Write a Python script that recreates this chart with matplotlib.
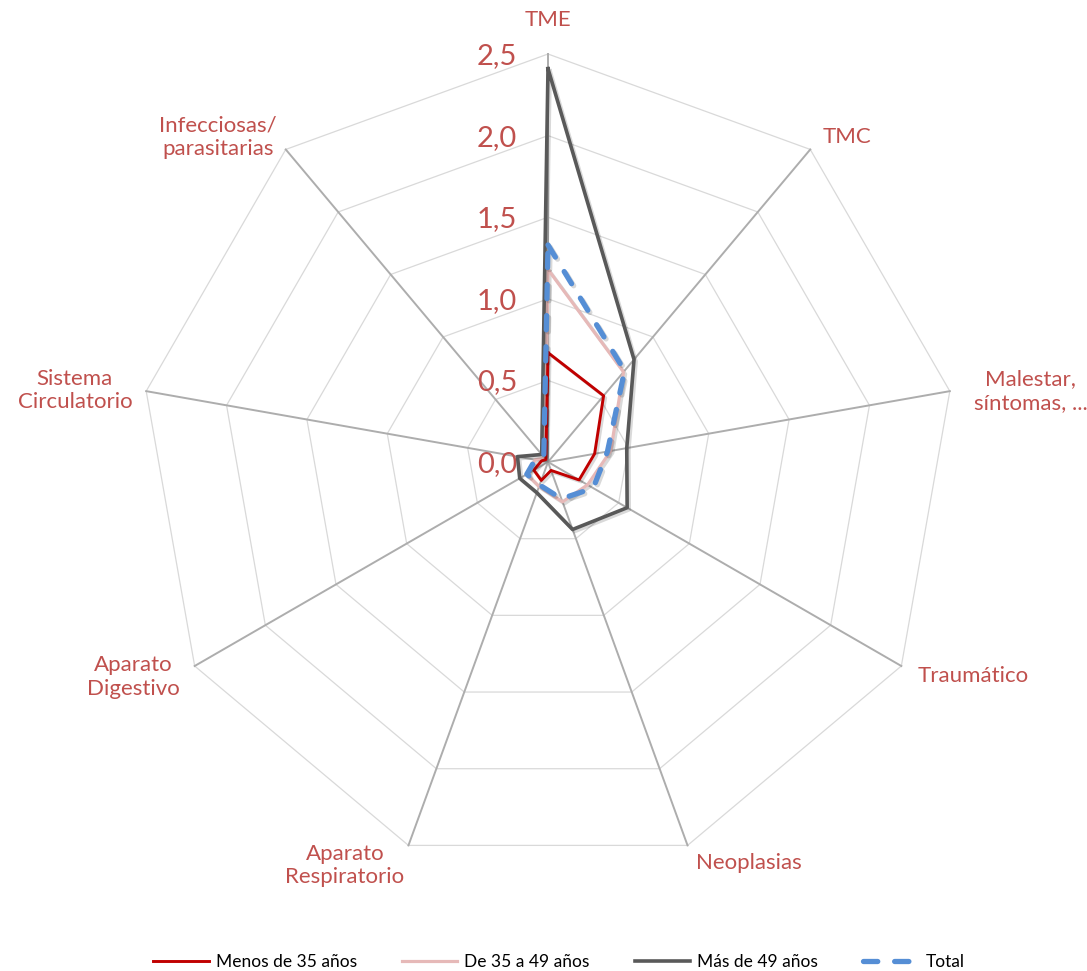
import numpy as np
import matplotlib
matplotlib.use("Agg")
import matplotlib.pyplot as plt
import matplotlib.patheffects as pe
from matplotlib.lines import Line2D

# Categorías (en sentido horario desde arriba)
categorias = ['TME', 'TMC', 'Malestar,\nsíntomas, ...', 'Traumático', 'Neoplasias',
              'Aparato\nRespiratorio', 'Aparato\nDigestivo', 'Sistema\nCirculatorio',
              'Infecciosas/\nparasitarias']

# Valores
menos_35 = [0.67, 0.53, 0.29, 0.22, 0.055, 0.12, 0.10, 0.04, 0.02]
de_35_49 = [1.18, 0.72, 0.39, 0.28, 0.26, 0.16, 0.15, 0.08, 0.03]
mas_49 = [2.41, 0.82, 0.49, 0.56, 0.44, 0.20, 0.20, 0.19, 0.06]
total = [1.33, 0.73, 0.37, 0.32, 0.24, 0.15, 0.15, 0.08, 0.04]

niveles = [0.0, 0.5, 1.0, 1.5, 2.0, 2.5]
series_nombres = ['Menos de 35 años', 'De 35 a 49 años', 'Más de 49 años', 'Total']

COLOR_TEXTO = '#C0504D'


def cerrar(lista):
    return list(lista) + [lista[0]]


def plotar_radar():
    plt.rcParams['font.family'] = ['Lato', 'DejaVu Sans']

    fig = plt.figure(figsize=(10.87, 9.71), dpi=100)
    # centro en (548, 462) px, radio 408 px
    ax = fig.add_axes([140 / 1087, 101 / 971, 816 / 1087, 816 / 971], projection='polar')
    ax.set_theta_offset(np.pi / 2)
    ax.set_theta_direction(-1)
    ax.set_ylim(0, 2.5)
    ax.axis('off')

    n = len(categorias)
    angulos = np.arange(n) * 2 * np.pi / n
    ang_c = cerrar(angulos)

    # Rejilla poligonal
    for r in niveles[1:]:
        ax.plot(ang_c, [r] * (n + 1), color='#d9d9d9', lw=0.9, zorder=1, clip_on=False)
    for a in angulos:
        ax.plot([a, a], [0, 2.5], color='#adadad', lw=1.4, zorder=1, clip_on=False)

    sombra = [pe.SimpleLineShadow(offset=(1.5, -1.5), shadow_color='k', alpha=0.15), pe.Normal()]

    # Series
    ax.plot(ang_c, cerrar(de_35_49), color='#E6B9B8', lw=2.3, zorder=3,
            path_effects=sombra, clip_on=False)
    ax.plot(ang_c, cerrar(mas_49), color='#595959', lw=2.6, zorder=4,
            path_effects=sombra, clip_on=False)
    ax.plot(ang_c, cerrar(menos_35), color='#C00000', lw=2.1, zorder=5,
            path_effects=sombra, clip_on=False)
    ax.plot(ang_c, cerrar(total), color='#558ED5', lw=3.8, zorder=6,
            dashes=(2.7, 3.2), dash_capstyle='round', path_effects=sombra, clip_on=False)

    # Etiquetas del eje radial
    for v in niveles:
        ax.annotate(f"{v:.1f}".replace('.', ','), xy=(0, v), xytext=(-31, -2),
                    textcoords='offset pixels', ha='right', va='center',
                    fontsize=21, color=COLOR_TEXTO)

    # Etiquetas de categorías
    desplaz = [(0, 34, 'center'), (12, 12, 'left'), (24, 0, 'left'), (16, -10, 'left'),
               (8, -18, 'left'), (-4, -20, 'right'), (-15, -11, 'right'), (-14, 1, 'right'),
               (-9, 12, 'right')]
    for a, cat, (dx, dy, ha) in zip(angulos, categorias, desplaz):
        ax.annotate(cat, xy=(a, 2.5), xytext=(dx, dy), textcoords='offset pixels',
                    ha=ha, va='center', multialignment='center', linespacing=1.2,
                    fontsize=16, color=COLOR_TEXTO)

    # Leyenda
    manejadores = [
        Line2D([], [], color='#C00000', lw=2.1),
        Line2D([], [], color='#E6B9B8', lw=2.3),
        Line2D([], [], color='#595959', lw=2.6),
        Line2D([], [], color='#558ED5', lw=3.8, dashes=(2.7, 3.2), dash_capstyle='round'),
    ]
    fig.legend(manejadores, series_nombres, loc='center', bbox_to_anchor=(559 / 1087, 1 - 962 / 971),
               ncol=4, frameon=False, fontsize=12.5, handlelength=3.2, columnspacing=2.6,
               handletextpad=0.4)

    fig.savefig('out.png', dpi=100)


if __name__ == "__main__":
    plotar_radar()
